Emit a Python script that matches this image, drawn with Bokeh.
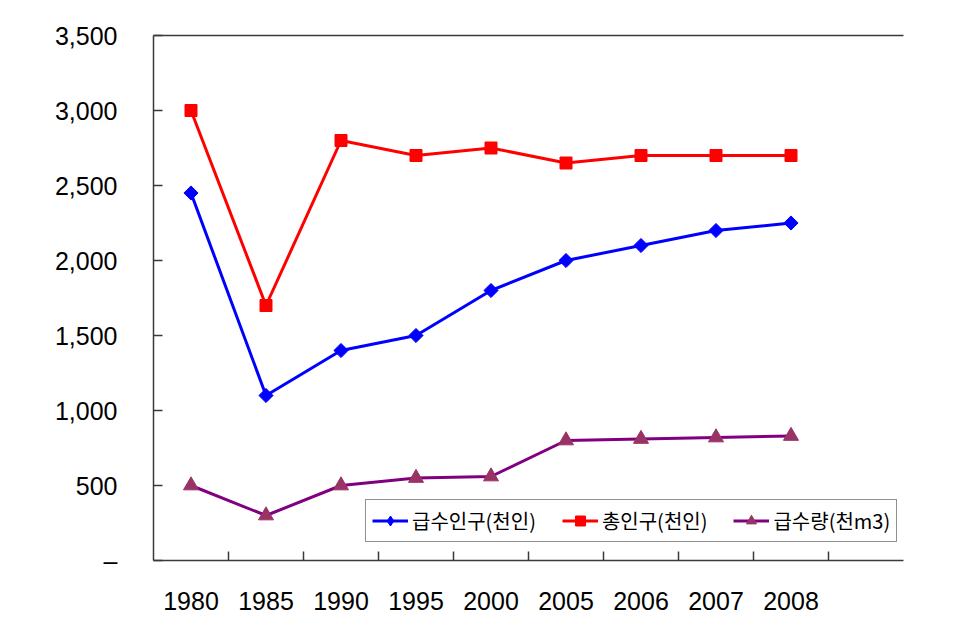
import math
from bokeh.plotting import figure
from bokeh.models import FixedTicker, LinearAxis, Legend, LegendItem
from bokeh.embed import file_html
from bokeh.resources import INLINE

years = ["1980", "1985", "1990", "1995", "2000", "2005", "2006", "2007", "2008"]
supply_pop = [2450, 1100, 1400, 1500, 1800, 2000, 2100, 2200, 2250]
total_pop = [3000, 1700, 2800, 2700, 2750, 2650, 2700, 2700, 2700]
supply_vol = [500, 300, 500, 550, 560, 800, 810, 820, 830]
y_ticks = [0, 500, 1000, 1500, 2000, 2500, 3000, 3500]
y_labels = ["–", "500", "1,000", "1,500", "2,000", "2,500", "3,000", "3,500"]
series_names = ["급수인구(천인)", "총인구(천인)", "급수량(천m3)"]

xs = list(range(len(years)))
FONT = "Liberation Sans"
KFONT = "Noto Sans CJK KR"

p = figure(width=958, height=621, output_backend="svg", toolbar_location=None,
           x_range=(-0.5, len(years) + 0.5), y_range=(0, 3500),
           min_border_left=153, min_border_right=55, min_border_top=35, min_border_bottom=61)
p.outline_line_color = None
p.xgrid.visible = False
p.ygrid.visible = False
p.background_fill_color = "white"
p.border_fill_color = "white"

AX = "#3a3a3a"
# x axis
xa = p.xaxis[0]
xa.ticker = FixedTicker(ticks=xs, minor_ticks=[i + 0.5 for i in xs])
xa.major_label_overrides = {i: y for i, y in enumerate(years)}
xa.major_tick_line_color = None
xa.minor_tick_in = 9
xa.minor_tick_out = 0
xa.minor_tick_line_color = AX
xa.minor_tick_line_width = 1.5
xa.axis_line_color = AX
xa.axis_line_width = 1.5
xa.major_label_standoff = 25
xa.major_label_text_font = FONT
xa.major_label_text_font_size = "25px"
xa.major_label_text_color = "black"

# y axis
ya = p.yaxis[0]
ya.ticker = FixedTicker(ticks=y_ticks)
ya.major_label_overrides = {t: l for t, l in zip(y_ticks, y_labels)}
ya.major_tick_in = 9
ya.major_tick_out = 0
ya.minor_tick_line_color = None
ya.major_tick_line_color = AX
ya.major_tick_line_width = 1.5
ya.axis_line_color = AX
ya.axis_line_width = 1.5
ya.major_label_standoff = 36
ya.major_label_text_font = FONT
ya.major_label_text_font_size = "25px"
ya.major_label_text_color = "black"

# top border line
top = LinearAxis(ticker=FixedTicker(ticks=[]), major_label_text_font_size="0px",
                 axis_line_color=AX, axis_line_width=1.5,
                 major_tick_line_color=None, minor_tick_line_color=None)
p.add_layout(top, "above")

l1 = p.line(xs, supply_pop, line_color="#0000FF", line_width=3)
m1 = p.scatter(xs, supply_pop, marker="square", size=10, angle=math.pi / 4,
               fill_color="#0000FF", line_color="#0000FF")
# legend-only diamond (a single off-data point that is not drawn)
m1_leg = p.scatter([0], [float("nan")], marker="diamond", size=14,
                   fill_color="#0000FF", line_color="#0000FF")
l2 = p.line(xs, total_pop, line_color="#FF0000", line_width=3)
m2 = p.scatter(xs, total_pop, marker="square", size=12, fill_color="#FF0000", line_color="#FF0000")
l3 = p.line(xs, supply_vol, line_color="#800080", line_width=3)
m3 = p.scatter(xs, supply_vol, marker="triangle", size=15, fill_color="#993366", line_color="#993366")

legend = Legend(items=[LegendItem(label=series_names[0], renderers=[l1, m1_leg]),
                       LegendItem(label=series_names[1], renderers=[l2, m2]),
                       LegendItem(label=series_names[2], renderers=[l3, m3])],
                orientation="horizontal", location=(212, 18),
                border_line_color="#222222", border_line_width=1.2,
                background_fill_color="white", background_fill_alpha=1,
                label_text_font=KFONT, label_text_font_size="20px", label_text_color="black",
                glyph_width=36, glyph_height=25, label_standoff=4, spacing=26,
                padding=6, margin=0)
p.add_layout(legend)

open("out.html", "w").write(file_html(p, INLINE))
